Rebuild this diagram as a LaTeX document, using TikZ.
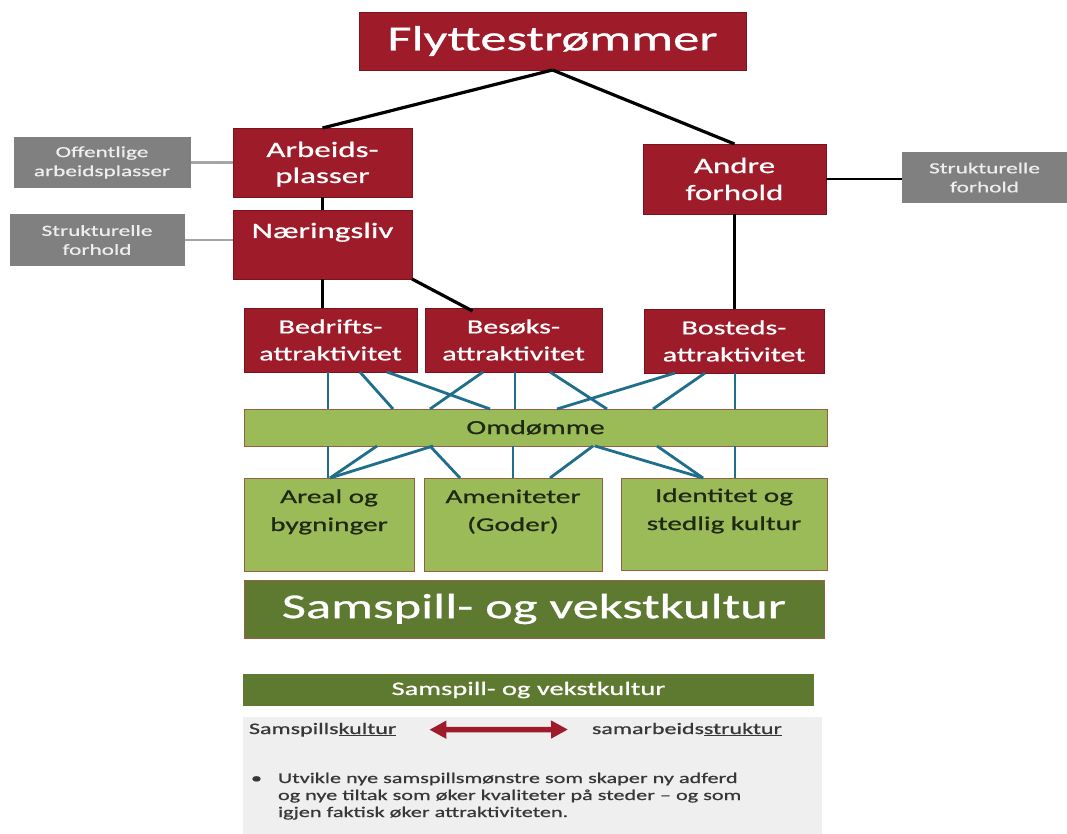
\documentclass[tikz,border=0pt]{standalone}
\usepackage{fontspec}
\setmainfont{Carlito}[FakeStretch=1.5,FakeBold=0.8]
\usetikzlibrary{arrows.meta}
\definecolor{bred}{RGB}{158,28,42}
\definecolor{bredd}{RGB}{120,20,30}
\definecolor{bgrey}{RGB}{128,128,128}
\definecolor{gtext}{RGB}{238,238,238}
\definecolor{lgreen}{RGB}{155,187,89}
\definecolor{dgreen}{RGB}{94,122,48}
\definecolor{gborder}{RGB}{150,95,70}
\definecolor{bblue}{RGB}{31,110,140}
\definecolor{panelc}{RGB}{239,239,239}
\definecolor{gtxt}{RGB}{30,40,18}
\definecolor{ptxt}{RGB}{55,55,55}
\definecolor{glinec}{RGB}{165,165,165}
\begin{document}
\begin{tikzpicture}[x=1pt,y=-1pt,
  redbox/.style={fill=bred, draw=bredd, line width=0.8pt, text=white, inner sep=0pt, outer sep=0pt, align=center},
  greybox/.style={fill=bgrey, text=gtext, inner sep=0pt, outer sep=0pt, align=center, font=\fontsize{15.5}{19}\selectfont},
  greenbox/.style={fill=lgreen, draw=gborder, line width=1pt, text=gtxt, inner sep=0pt, outer sep=0pt, align=center},
  darkbox/.style={fill=dgreen, text=white, inner sep=0pt, outer sep=0pt, align=center},
  blk/.style={draw=black, line width=3.2pt},
  gline/.style={draw=glinec, line width=2.8pt},
  blu/.style={draw=bblue, line width=2.8pt},
  ptext/.style={text=ptxt, inner sep=0pt, outer sep=0pt, font=\fontsize{16}{19}\selectfont}
]
\useasboundingbox (0,0) rectangle (1067,834);
\fill[white] (0,0) rectangle (1067,834);

% panel
\node[fill=panelc, minimum width=579pt, minimum height=117pt, inner sep=0pt] (panel) at (532.5,775.5) {};

% red boxes
\node[redbox, minimum width=387pt, minimum height=58pt, font=\fontsize{35}{40}\selectfont] (flyt) at (552.5,41) {Flyttestrømmer};
\node[redbox, minimum width=179pt, text width=170pt, text height=29pt, text depth=40pt, font=\fontsize{22}{26}\selectfont] (arb) at (322.5,162.5) {Arbeids-\\plasser};
\node[redbox, minimum width=179pt, text width=170pt, text height=28pt, text depth=41pt, font=\fontsize{22}{26}\selectfont] (naer) at (322.5,244.5) {Næringsliv};
\node[redbox, minimum width=183pt, minimum height=70pt, font=\fontsize{22}{27}\selectfont] (andre) at (734.5,179) {Andre\\forhold};
\node[redbox, minimum width=173pt, minimum height=64pt, font=\fontsize{20}{27}\selectfont] (bed) at (330.5,340) {Bedrifts-\\attraktivitet};
\node[redbox, minimum width=177pt, minimum height=64pt, font=\fontsize{20}{27}\selectfont] (bes) at (513.5,340) {Besøks-\\attraktivitet};
\node[redbox, minimum width=180pt, minimum height=64pt, font=\fontsize{20}{27}\selectfont] (bos) at (734,341) {Bosteds-\\attraktivitet};

% grey boxes
\node[greybox, minimum width=177pt, minimum height=51pt] (off) at (102,162.5) {Offentlige\\arbeidsplasser};
\node[greybox, minimum width=175pt, minimum height=52pt] (strL) at (97,240) {Strukturelle\\forhold};
\node[greybox, minimum width=165pt, minimum height=51pt] (strR) at (984.5,177.5) {Strukturelle\\forhold};

% green boxes
\node[greenbox, minimum width=583pt, minimum height=37pt, font=\fontsize{20}{24}\selectfont] (omd) at (535.5,427.5) {Omdømme};
\node[greenbox, minimum width=170pt, text width=160pt, text height=25pt, text depth=68pt, font=\fontsize{19.5}{28}\selectfont] (areal) at (329,524.5) {Areal og\\bygninger};
\node[greenbox, minimum width=178pt, text width=168pt, text height=25pt, text depth=68pt, font=\fontsize{19.5}{28}\selectfont] (amen) at (513,524.5) {Ameniteter\\(Goder)};
\node[greenbox, minimum width=206pt, text width=196pt, text height=24pt, text depth=68pt, font=\fontsize{19.5}{28}\selectfont] (ident) at (724,524) {Identitet og\\stedlig kultur};

\node[darkbox, draw=gborder, line width=0.8pt, minimum width=580pt, minimum height=58pt, font=\fontsize{35}{40}\selectfont] (samsp) at (534,609) {Samspill- og vekstkultur};
\node[darkbox, minimum width=571pt, minimum height=32pt, font=\fontsize{19}{22}\selectfont] (samsp2) at (528.5,690) {Samspill- og vekstkultur};

% panel texts
\node[ptext, anchor=base west] (skult) at (249,734) {Samspills\underline{kultur}};
\node[ptext, anchor=base west] (sstr) at (592,734) {samarbeids\underline{struktur}};
\node[ptext, anchor=base west, font=\fontsize{14.8}{17}\selectfont] (bul) at (251,783)
  {\begin{tabular}[t]{@{}p{27pt}@{}l@{}}
   • & Utvikle nye samspillsmønstre som skaper ny adferd\\
     & og nye tiltak som øker kvaliteter på steder – og som\\
     & igjen faktisk øker attraktiviteten.
   \end{tabular}};

\draw[draw=bred, line width=5.5pt, {Triangle[length=17pt,width=17pt]}-{Triangle[length=17pt,width=17pt]}]
  ([xshift=33pt]skult.east) -- ([xshift=-24pt]sstr.west);

% black connectors
\draw[blk] (flyt.south) -- (arb.north);
\draw[blk] (flyt.south) -- (andre.north);
\draw[blk] (arb.south) -- (naer.north);
\draw[blk] (naer.south) -- (naer.south |- bed.north);
\draw[blk] (naer.south east) -- ([xshift=-41pt,yshift=-3pt]bes.north);
\draw[blk] (andre.south) -- (andre.south |- bos.north);
\draw[draw=black, line width=2.6pt] (andre.east) -- (andre.east -| strR.west);
\draw[gline] (off.east) -- (off.east -| arb.west);
\draw[gline] (strL.east) -- (strL.east -| naer.west);

% blue connectors
\foreach \a/\da/\db in {bed/-2.5/-207.5, bed/29.5/-142.5, bed/56.5/-45.5,
                         bes/-30.5/-105.5, bes/1.5/-20.5, bes/36.5/71.5,
                         bos/-59/21.5, bos/-29/117.5, bos/1/199.5}
  \draw[blu] ([xshift=\da pt]\a.south) -- ([xshift=\db pt]omd.north);
\foreach \da/\b/\db in {-207.5/areal/-1, -158.5/areal/1, -102.5/areal/1,
                         -105.5/amen/-53, -22.5/amen/0, 57.5/amen/37,
                         59.5/ident/-21, 121.5/ident/-21, 199.5/ident/11}
  \draw[blu] ([xshift=\da pt]omd.south) -- ([xshift=\db pt]\b.north);
\end{tikzpicture}
\end{document}
